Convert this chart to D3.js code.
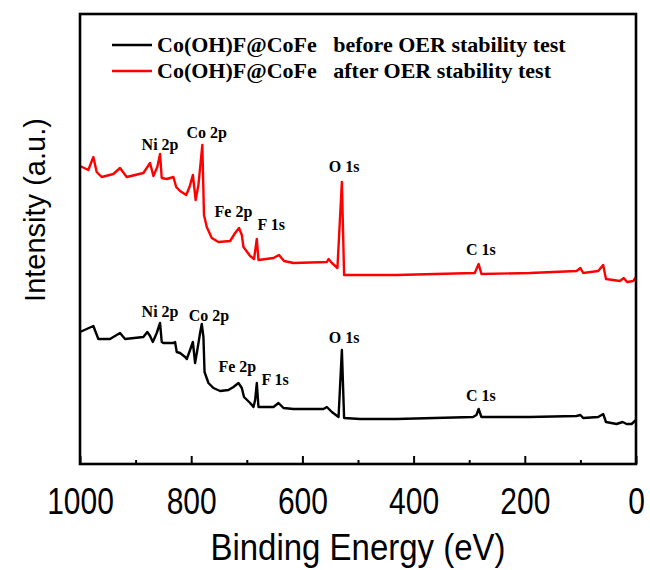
<!DOCTYPE html>
<html lang="en">
<head>
<meta charset="UTF-8">
<title>XPS survey</title>
<script src="https://cdn.jsdelivr.net/npm/d3@7"></script>
<style>
    body { margin: 0; background: #fff; }
    svg { display: block; }
</style>
</head>
<body>
<script>
    // binding energy (eV) and intensity (a.u.)
    var beforeE = [1000, 976, 967, 946, 928, 919, 886, 879, 874, 869, 862, 856, 853, 850, 832, 829, 826, 820, 811, 808, 802, 797, 793, 789, 784, 781, 778, 776, 769, 760, 748, 733, 724, 715, 709, 705, 694, 688, 685, 682, 679, 652, 643, 634, 616, 562, 556, 547, 535, 529, 525, 496, 431, 293, 287, 283, 278, 191, 107, 100, 95, 68, 59, 54, 35, 24, 17, 8, 0];
    var beforeI = [132, 138, 125, 125, 131, 125, 127, 132, 128, 122, 131, 141, 122, 121, 121, 122, 112, 111, 107, 105, 114, 122, 101, 114, 131, 140, 127, 92, 81, 76, 73, 74, 77, 81, 76, 67, 61, 57, 64, 81, 57, 57, 61, 56, 55, 55, 57, 52, 47, 114, 46, 45, 45, 47, 49, 55, 47, 47, 48, 49, 46, 47, 50, 42, 40, 42, 40, 40, 44];

    var afterE = [1000, 985, 976, 970, 961, 940, 928, 916, 886, 874, 868, 861, 856, 853, 844, 832, 827, 820, 809, 803, 797, 792, 787, 780, 777, 772, 763, 751, 730, 721, 714, 709, 706, 694, 687, 682, 679, 652, 642, 633, 616, 556, 553, 547, 537, 529, 525, 496, 431, 290, 283, 278, 191, 107, 100, 95, 68, 59, 54, 29, 22, 16, 5, 0];
    var afterI = [298, 294, 307, 292, 287, 290, 296, 287, 291, 301, 288, 297, 310, 286, 285, 287, 277, 273, 269, 277, 289, 264, 279, 319, 249, 237, 226, 222, 223, 231, 236, 229, 217, 208, 205, 225, 204, 206, 209, 203, 201, 202, 205, 201, 196, 282, 189, 189, 189, 191, 200, 190, 191, 193, 196, 191, 193, 199, 185, 183, 186, 182, 183, 187];

    // peak labels: text, energy and intensity of the anchor
    var peakNames = ["Ni 2p", "Co 2p", "Fe 2p", "F 1s", "O 1s", "C 1s"];
    var beforeLabelE = [856, 768, 717, 649, 525, 279];
    var beforeLabelI = [147, 143, 92, 79, 121, 63];
    var afterLabelE = [856, 772, 724, 656, 525, 279];
    var afterLabelI = [314, 326, 247, 234, 292, 209];

    var legendNames = ["Co(OH)F@CoFe   before OER stability test", "Co(OH)F@CoFe   after OER stability test"];
    var xTicks = [1000, 800, 600, 400, 200, 0];
    var xMinor = [900, 700, 500, 300, 100];

    var W = 650, H = 570;
    var margin = { left: 80, right: 14, top: 14, bottom: 106 };
    var pw = W - margin.left - margin.right;
    var ph = H - margin.top - margin.bottom;

    var svg = d3.select("body").append("svg")
        .attr("width", W)
        .attr("height", H);

    var x = d3.scaleLinear().domain([1000, 0]).range([margin.left, margin.left + pw]);
    var y = d3.scaleLinear().domain([0, 450]).range([margin.top + ph, margin.top]);

    var line = d3.line()
        .x(d => x(d[0]))
        .y(d => y(d[1]));

    var series = [
        { e: beforeE, i: beforeI, color: "#000000", lx: beforeLabelE, ly: beforeLabelI },
        { e: afterE, i: afterI, color: "#ff0000", lx: afterLabelE, ly: afterLabelI }
    ];

    series.forEach(function(s) {
        var pts = s.e.map((e, k) => [e, s.i[k]]);
        svg.append("path")
            .datum(pts)
            .attr("fill", "none")
            .attr("stroke", s.color)
            .attr("stroke-width", 2.4)
            .attr("stroke-linejoin", "round")
            .attr("d", line);

        svg.selectAll(null)
            .data(peakNames)
            .enter()
            .append("text")
            .attr("x", (d, k) => x(s.lx[k]))
            .attr("y", (d, k) => y(s.ly[k]))
            .attr("text-anchor", "middle")
            .style("font-family", "'Liberation Serif', 'Times New Roman', serif")
            .style("font-weight", "bold")
            .style("font-size", "16px")
            .text(d => d);
    });

    // axis with inward ticks
    var xaxis = d3.axisBottom(x)
        .tickValues(xTicks)
        .tickSizeInner(-8)
        .tickSizeOuter(0)
        .tickFormat(d3.format("d"));

    var gx = svg.append("g")
        .attr("transform", "translate(0," + (margin.top + ph) + ")")
        .call(xaxis);
    gx.select(".domain").remove();
    gx.selectAll(".tick line").attr("stroke", "#000").attr("stroke-width", 2);
    // labels drawn a little taller than wide, like the picture
    gx.selectAll(".tick text")
        .attr("y", 0)
        .attr("dy", 0)
        .attr("transform", "translate(0,50) scale(1,1.2)")
        .style("font-family", "'Liberation Sans', Arial, sans-serif")
        .style("font-size", "30px")
        .attr("fill", "#000");

    var xminor = d3.axisBottom(x)
        .tickValues(xMinor)
        .tickSizeInner(-4)
        .tickSizeOuter(0)
        .tickFormat("");
    var gm = svg.append("g")
        .attr("transform", "translate(0," + (margin.top + ph) + ")")
        .call(xminor);
    gm.select(".domain").remove();
    gm.selectAll(".tick line").attr("stroke", "#000").attr("stroke-width", 2);

    // frame
    svg.append("rect")
        .attr("x", margin.left)
        .attr("y", margin.top)
        .attr("width", pw)
        .attr("height", ph)
        .attr("fill", "none")
        .attr("stroke", "#000")
        .attr("stroke-width", 2.6);

    // axis titles
    svg.append("text")
        .attr("transform", "translate(" + (margin.left + pw / 2) + ",560) scale(1,1.12)")
        .attr("text-anchor", "middle")
        .style("font-family", "'Liberation Sans', Arial, sans-serif")
        .style("font-size", "33px")
        .text("Binding Energy (eV)");

    svg.append("text")
        .attr("transform", "translate(45,210) rotate(-90)")
        .attr("text-anchor", "middle")
        .style("font-family", "'Liberation Sans', Arial, sans-serif")
        .style("font-size", "29px")
        .text("Intensity (a.u.)");

    // legend
    var legend = svg.selectAll(".legend")
        .data(legendNames)
        .enter()
        .append("g")
        .attr("class", "legend")
        .attr("transform", (d, k) => "translate(112," + (45 + k * 26) + ")");

    legend.append("line")
        .attr("x1", 0)
        .attr("x2", 40)
        .attr("stroke", (d, k) => series[k].color)
        .attr("stroke-width", 2.4);

    legend.append("text")
        .attr("x", 45)
        .attr("y", 7)
        .style("font-family", "'Liberation Serif', 'Times New Roman', serif")
        .style("font-weight", "bold")
        .style("font-size", "22px")
        .style("white-space", "pre")
        .text(d => d);
</script>
</body>
</html>
